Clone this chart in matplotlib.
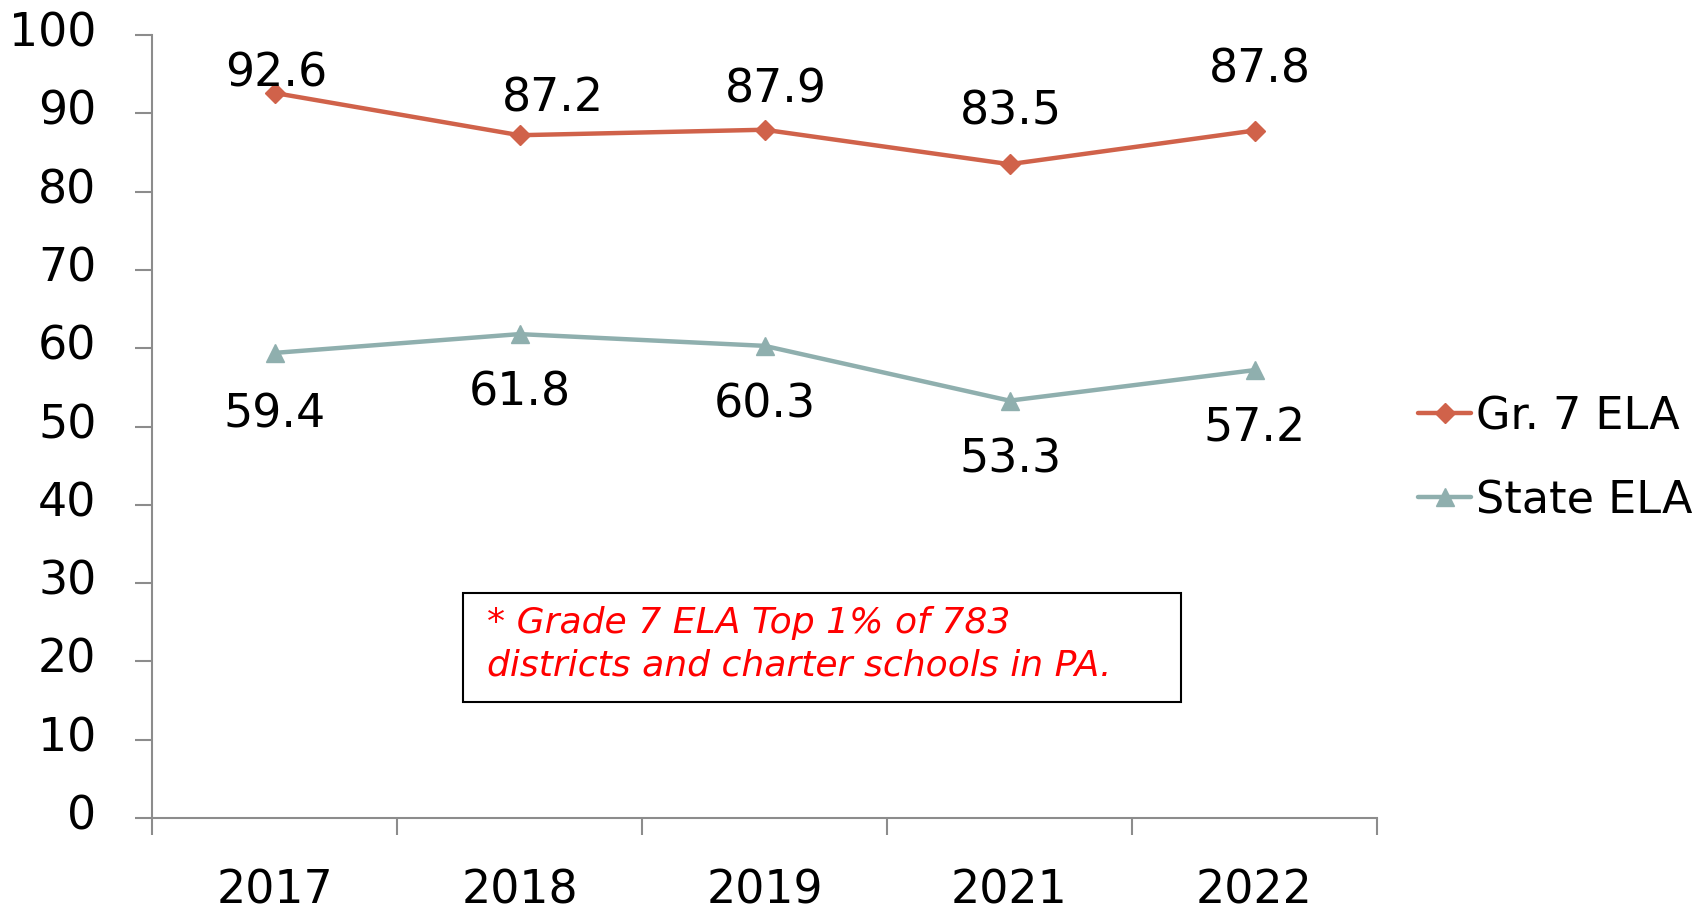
import matplotlib
matplotlib.use('Agg')
import matplotlib.pyplot as plt
import matplotlib.transforms as mtransforms

# data
years = ['2017', '2018', '2019', '2021', '2022']
gr7_ela = [92.6, 87.2, 87.9, 83.5, 87.8]
state_ela = [59.4, 61.8, 60.3, 53.3, 57.2]

# label nudges in points (dx, dy)
gr7_offsets = [(1, 14), (24, 27), (8, 29), (1, 38), (4, 44)]
state_offsets = [(0, -44), (0, -42), (0, -42), (1, -42), (0, -42)]

plt.rcParams['font.family'] = ['DejaVu Sans']
FS = 33
GRAY = '#8c8c8c'

fig = plt.figure(figsize=(17.07, 9.12), dpi=100)
ax = fig.add_axes([152 / 1707, 1 - 819 / 912, (1377 - 152) / 1707, (819 - 36) / 912])

x = list(range(len(years)))
ax.plot(x, gr7_ela, color='#D0624A', lw=3.2, marker='D', ms=10,
        solid_capstyle='round', label='Gr. 7 ELA')
ax.plot(x, state_ela, color='#8FAFAE', lw=3.2, marker='^', ms=13,
        solid_capstyle='round', label='State ELA')

for i, v in enumerate(gr7_ela):
    ax.annotate(f'{v}', (i, v), xytext=gr7_offsets[i], textcoords='offset points',
                ha='center', va='center', fontsize=FS)
for i, v in enumerate(state_ela):
    ax.annotate(f'{v}', (i, v), xytext=state_offsets[i], textcoords='offset points',
                ha='center', va='center', fontsize=FS)

ax.set_xlim(-0.5, len(years) - 0.5)
ax.set_ylim(0, 100)
ax.set_yticks(range(0, 101, 10))
ax.set_xticks([i - 0.5 for i in range(len(years) + 1)])
ax.set_xticklabels([])
ax.set_xticks(x, minor=True)
ax.set_xticklabels(years, minor=True)

for s in ['top', 'right']:
    ax.spines[s].set_visible(False)
for s in ['left', 'bottom']:
    ax.spines[s].set_color(GRAY)
    ax.spines[s].set_linewidth(1.5)

ax.tick_params(axis='y', length=12, width=1.5, color=GRAY, labelsize=FS, pad=28)
ax.tick_params(axis='x', which='major', length=12, width=1.5, color=GRAY)
ax.tick_params(axis='x', which='minor', length=0, labelsize=FS, pad=36)

# y labels sit a bit above their ticks in the original
shift = mtransforms.ScaledTranslation(0, 5 / 72, fig.dpi_scale_trans)
for lbl in ax.get_yticklabels():
    lbl.set_transform(lbl.get_transform() + shift)

fig.legend(loc='center left', bbox_to_anchor=(1418 / 1707, 1 - 459 / 912),
           bbox_transform=fig.transFigure, frameon=False, fontsize=32,
           handlelength=1.2, handletextpad=0.1, labelspacing=0.92,
           borderpad=0, borderaxespad=0)

box = plt.Rectangle((463 / 1707, 1 - 703 / 912), (1181 - 463) / 1707, (703 - 594) / 912,
                    transform=fig.transFigure, fill=False, ec='black', lw=1.5)
fig.patches.append(box)
fig.text(487 / 1707, 1 - 644 / 912,
         '* Grade 7 ELA Top 1% of 783\ndistricts and charter schools in PA.',
         color='red', style='italic', fontsize=26, va='center', ha='left',
         linespacing=1.32)

fig.savefig('out.png', dpi=100)
